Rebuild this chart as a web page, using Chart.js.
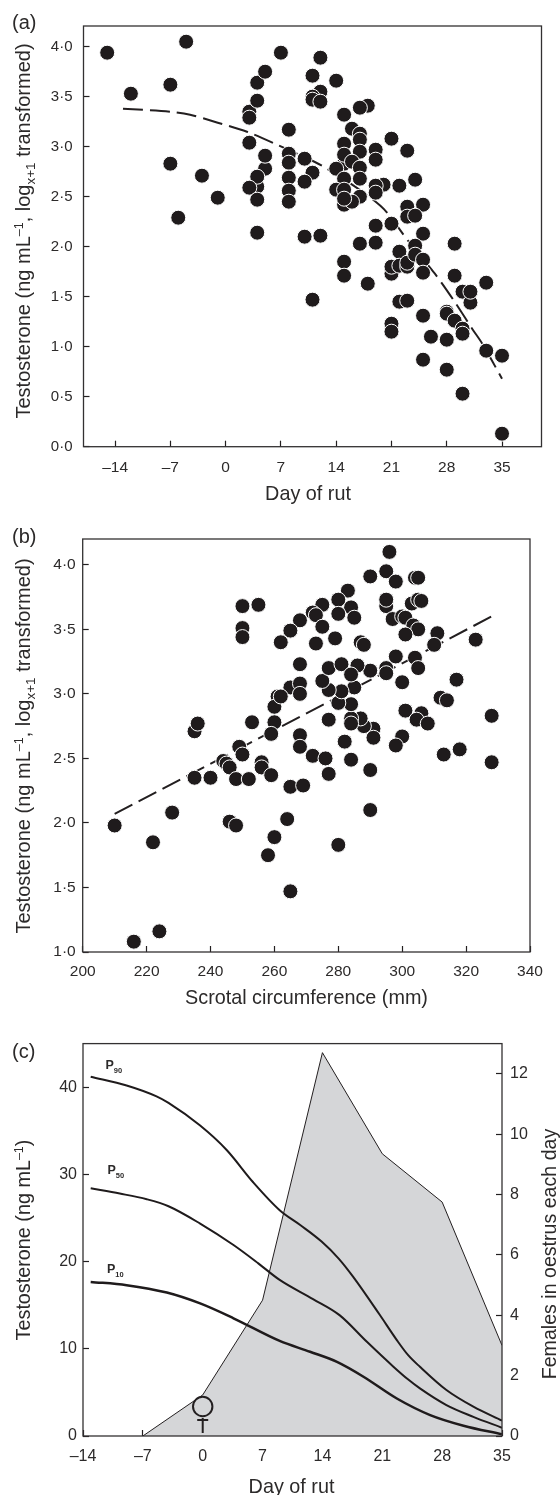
<!DOCTYPE html>
<html>
<head>
<meta charset="utf-8">
<title>Testosterone and day of rut</title>
<script src="https://cdn.jsdelivr.net/npm/chart.js@4"></script>
<style>
  html, body { margin: 0; padding: 0; background: #fff; }
  #page { position: relative; width: 560px; height: 1495px; overflow: hidden; }
  canvas { position: absolute; left: 0; }
</style>
</head>
<body>
<div id="page">
  <canvas id="panelA" width="560" height="510" style="top:0"></canvas>
  <canvas id="panelB" width="560" height="510" style="top:510px"></canvas>
  <canvas id="panelC" width="560" height="475" style="top:1020px"></canvas>
</div>
<script>
// (a) testosterone against day of rut
const aDays = [-15, -12, -5, -7, -7, -3, -1, -6, 4, 3, 3, 3, 4, 4, 5, 5, 5, 4, 4, 3, 4,
  7, 12, 11, 14, 12, 11, 11, 12, 18, 17, 15, 8, 16, 17, 17, 21, 23, 15, 17, 19, 19, 8, 8, 10, 15, 15, 16, 14, 17, 11, 10, 8, 8, 8,
  15, 17, 24, 20, 22, 19, 19, 14, 15, 17, 15, 16, 15, 23, 25, 23, 24, 25, 29, 19, 21, 10, 12, 17, 19, 24, 22,
  15, 15, 18, 21, 21, 22, 23, 23, 24, 25, 25, 29, 33, 30, 31, 31, 11, 22, 23, 25, 21, 21, 28, 28, 29, 30, 30, 26, 28, 33, 35, 25, 28, 30, 35];
const aValues = [3.94, 3.53, 4.05, 3.62, 2.83, 2.71, 2.49, 2.29, 2.14, 3.04, 3.35, 3.29, 3.46, 3.64, 3.75, 2.78, 2.91, 2.6, 2.7, 2.59, 2.47,
  3.94, 3.89, 3.71, 3.66, 3.55, 3.5, 3.47, 3.45, 3.41, 3.39, 3.32, 3.17, 3.18, 3.13, 3.07, 3.08, 2.96, 3.03, 2.95, 2.97, 2.87, 2.93, 2.84, 2.88, 2.83, 2.92, 2.85, 2.78, 2.79, 2.74, 2.65, 2.69, 2.56, 2.45,
  2.68, 2.68, 2.67, 2.62, 2.61, 2.61, 2.54, 2.57, 2.57, 2.5, 2.42, 2.45, 2.48, 2.4, 2.42, 2.3, 2.31, 2.13, 2.03, 2.21, 2.23, 2.1, 2.11, 2.03, 2.04, 2.01, 1.95,
  1.85, 1.71, 1.63, 1.73, 1.8, 1.81, 1.8, 1.84, 1.92, 1.87, 1.74, 1.71, 1.64, 1.55, 1.44, 1.55, 1.47, 1.45, 1.46, 1.31, 1.23, 1.15, 1.35, 1.33, 1.26, 1.18, 1.13, 1.1, 1.07, 0.96, 0.91, 0.87, 0.77, 0.53, 0.13];
const aCurveDays = [-13, -7, -4.5, -1, 2.7, 6.5, 12.4, 19.6, 23, 26.5, 29, 31.3, 32.5, 35];
const aCurveValues = [3.38, 3.35, 3.32, 3.24, 3.15, 3.02, 2.8, 2.41, 2.07, 1.73, 1.45, 1.17, 1.03, 0.68];
const aXTicks = [-14, -7, 0, 7, 14, 21, 28, 35];
const aYTicks = [0, 0.5, 1, 1.5, 2, 2.5, 3, 3.5, 4];

// (b) testosterone against scrotal circumference
const bCirc = [250, 255, 250, 250, 262, 261, 260, 260, 259, 253, 235, 236, 249, 250, 244, 245, 246, 256, 256,
  210, 222, 228, 216, 224, 235, 240, 246, 248, 248, 252, 260, 258, 259, 265, 264, 280, 290, 290, 277, 265, 269,
  296, 295, 290, 298, 304, 305, 295, 295, 297, 303, 305, 306, 300, 301, 303.5, 305, 301, 311, 310, 323, 298, 304, 305, 295, 295, 290, 300, 317,
  312, 314, 301, 306, 304.5, 308, 328, 318, 313, 328, 300, 298, 291, 291, 288, 287, 284, 284, 284, 280, 285, 281, 277, 275, 277, 281, 286, 284,
  268, 265, 268, 268, 262, 277, 268, 268, 272, 276, 282, 284, 283, 280, 284, 285, 280, 275, 272, 273, 268, 265, 262, 275, 273, 279, 287, 288];
const bValues = [3.68, 3.69, 3.51, 3.44, 3.4, 2.98, 2.9, 2.78, 2.69, 2.78, 2.71, 2.77, 2.59, 2.53, 2.48, 2.46, 2.43, 2.47, 2.43,
  1.98, 1.85, 2.08, 1.08, 1.16, 2.35, 2.35, 2.01, 1.98, 2.34, 2.34, 1.89, 1.75, 2.37, 1.47, 2.03, 1.83, 2.1, 2.41, 2.38, 2.28, 2.29,
  4.1, 3.95, 3.91, 3.87, 3.9, 3.9, 3.68, 3.73, 3.58, 3.7, 3.73, 3.72, 3.6, 3.59, 3.53, 3.5, 3.46, 3.47, 3.38, 3.42, 3.29, 3.28, 3.2, 3.2, 3.16, 3.18, 3.09, 3.11,
  2.97, 2.95, 2.87, 2.85, 2.8, 2.77, 2.83, 2.57, 2.53, 2.47, 2.67, 2.6, 2.73, 2.66, 2.75, 2.81, 2.81, 2.77, 2.92, 2.93, 3.05, 3.02, 3.03, 3.1, 3.2, 3.23, 3.22, 3.15,
  3.23, 3.05, 3.08, 3.0, 2.98, 2.8, 2.68, 2.59, 2.52, 2.5, 2.63, 2.49, 3.8, 3.73, 3.67, 3.59, 3.62, 3.69, 3.63, 3.61, 3.57, 3.49, 3.4, 3.52, 3.39, 3.43, 3.4, 3.38];
const bLineCirc = [210, 328];
const bLineValues = [2.07, 3.6];
const bXTicks = [200, 220, 240, 260, 280, 300, 320, 340];
const bYTicks = [1, 1.5, 2, 2.5, 3, 3.5, 4];

// (c) percentile curves and females in oestrus
const cOestrusDays = [-7, 0, 7, 14, 21, 28, 35];
const cOestrus = [0, 1.36, 4.5, 12.7, 9.35, 7.75, 3];
const cP90Days = [-13.1, -8.9, -5.4, -4, -0.3, 2.8, 5.9, 9, 11.4, 13.9, 15.9, 17.6, 20.7, 22.7, 24, 25.4, 28.5, 31.65, 35];
const cP90 = [41.2, 40.2, 38.95, 38.2, 35.6, 32.8, 29.1, 25.9, 24.2, 22.3, 20.35, 18.25, 13.9, 11, 9.3, 7.94, 5.27, 3.36, 1.76];
const cP50Days = [-13.1, -9.7, -6.55, -4, -0.3, 3.6, 6.5, 9, 12.9, 16, 19.2, 22.3, 24, 25.4, 28.5, 31.65, 35];
const cP50 = [28.4, 27.8, 27.15, 26.35, 24.36, 21.9, 19.8, 17.9, 15.7, 13.86, 10.8, 7.95, 6.5, 5.46, 3.55, 2.2, 0.95];
const cP10Days = [-13.1, -8.9, -4.2, -0.3, 3.6, 9, 12.55, 15.7, 18.8, 22.7, 26.6, 30.5, 35];
const cP10 = [17.67, 17.3, 16.45, 15.2, 13.5, 10.9, 9.66, 8.5, 6.8, 4.3, 2.4, 1.18, 0.2];
const cXTicks = [-14, -7, 0, 7, 14, 21, 28, 35];
const cYTicks = [0, 10, 20, 30, 40];
const cY2Ticks = [0, 2, 4, 6, 8, 10, 12];

const ink = '#231f20';
const textInk = '#2c2a2a';
const family = '"Liberation Sans", Arial, sans-serif';
Chart.defaults.font.family = family;
Chart.defaults.color = textInk;

const zip = (xs, ys) => xs.map((x, i) => ({ x: x, y: ys[i] }));
const dotFormat = v => v.toFixed(1).replace('.', '·');
const dashFormat = v => String(v).replace('-', '–');

function axis(position, min, max, ticks, format, size, padding, fit) {
  return {
    type: 'linear',
    position: position,
    min: min,
    max: max,
    afterBuildTicks: scale => { scale.ticks = ticks.map(v => ({ value: v })); },
    afterFit: scale => {
      if (position === 'bottom') scale.height = fit; else scale.width = fit;
    },
    grid: { drawOnChartArea: false, tickLength: -6, tickColor: ink, tickWidth: 1.2 },
    border: { display: false },
    ticks: { autoSkip: false, maxRotation: 0, padding: padding, color: textInk, font: { size: size }, callback: format }
  };
}

// parts are [text, size, baseline shift, weight]
function drawParts(ctx, parts, x, y, vertical, centred) {
  ctx.save();
  ctx.translate(x, y);
  if (vertical) ctx.rotate(-Math.PI / 2);
  ctx.fillStyle = textInk;
  ctx.textBaseline = 'alphabetic';
  ctx.textAlign = 'left';
  const fontOf = p => (p[3] || 'normal') + ' ' + p[1] + 'px ' + family;
  let total = 0;
  parts.forEach(p => { ctx.font = fontOf(p); total += ctx.measureText(p[0]).width; });
  let at = centred ? -total / 2 : 0;
  parts.forEach(p => {
    ctx.font = fontOf(p);
    ctx.fillText(p[0], at, p[2] || 0);
    at += ctx.measureText(p[0]).width;
  });
  ctx.restore();
}

// box round the plot plus the mixed-size titles the axis title option cannot do
function overlay(texts, extra) {
  return {
    id: 'overlay',
    afterDraw(chart) {
      const ctx = chart.ctx, a = chart.chartArea;
      ctx.save();
      ctx.strokeStyle = '#333132';
      ctx.lineWidth = 1.3;
      ctx.strokeRect(a.left, a.top, a.right - a.left, a.bottom - a.top);
      ctx.restore();
      texts.forEach(t => drawParts(ctx, t.parts, t.x, t.y, t.vertical, t.centred));
      if (extra) extra(chart);
    }
  };
}

const logTitle = [['Testosterone (ng mL', 20], ['–1', 12.5, -7], [', log', 20], ['x+1', 13.5, 5], [' transformed)', 20]];

function scatterChart(id, xs, ys, lineXs, lineYs, tension, scales, top, right, texts) {
  return new Chart(document.getElementById(id), {
    type: 'scatter',
    data: {
      datasets: [{
        data: zip(xs, ys),
        order: 1,
        pointRadius: 7.5,
        pointBorderWidth: 1,
        pointBackgroundColor: '#1f1b1c',
        pointBorderColor: '#ffffff'
      }, {
        type: 'line',
        data: zip(lineXs, lineYs),
        order: 2,
        borderColor: ink,
        borderWidth: 2,
        borderDash: [20, 7],
        tension: tension,
        pointRadius: 0,
        fill: false
      }]
    },
    options: {
      responsive: false,
      animation: false,
      layout: { padding: { left: 0, top: top, right: right, bottom: 0 } },
      plugins: { legend: { display: false }, tooltip: { enabled: false } },
      scales: scales
    },
    plugins: [overlay(texts)]
  });
}

scatterChart('panelA', aDays, aValues, aCurveDays, aCurveValues, 0.3, {
  x: axis('bottom', -18, 40, aXTicks, dashFormat, 15.5, 18, 63.3),
  y: axis('left', 0, 4.207, aYTicks, dotFormat, 15, 17, 83.5)
}, 16.5, 18.5, [
  { parts: [['(a)', 20]], x: 12, y: 29 },
  { parts: logTitle, x: 30, y: 231, vertical: true, centred: true },
  { parts: [['Day of rut', 19.8]], x: 308, y: 500, centred: true }
]);

scatterChart('panelB', bCirc, bValues, bLineCirc, bLineValues, 0, {
  x: axis('bottom', 200, 340, bXTicks, v => String(v), 15.5, 16, 68),
  y: axis('left', 1, 4.2, bYTicks, dotFormat, 15.5, 13, 82.7)
}, 29, 30, [
  { parts: [['(b)', 20]], x: 12, y: 33 },
  { parts: logTitle, x: 30, y: 236, vertical: true, centred: true },
  { parts: [['Scrotal circumference (mm)', 19.8]], x: 306.5, y: 494, centred: true }
]);

// female sign sits on day 0 in (c), anchored through the x scale
function femaleSign(chart) {
  const ctx = chart.ctx;
  const x = chart.scales.x.getPixelForValue(0);
  const y = chart.chartArea.bottom;
  ctx.save();
  ctx.strokeStyle = ink;
  ctx.lineWidth = 2;
  ctx.beginPath();
  ctx.arc(x, y - 29.5, 9.7, 0, Math.PI * 2);
  ctx.moveTo(x, y - 18);
  ctx.lineTo(x, y - 3);
  ctx.moveTo(x - 5.5, y - 16);
  ctx.lineTo(x + 5.5, y - 16);
  ctx.stroke();
  ctx.restore();
}

function curve(xs, ys, width) {
  return {
    data: zip(xs, ys),
    yAxisID: 'y',
    order: 1,
    borderColor: '#1f1b1c',
    borderWidth: width,
    cubicInterpolationMode: 'monotone',
    pointRadius: 0,
    fill: false
  };
}

new Chart(document.getElementById('panelC'), {
  type: 'line',
  data: {
    datasets: [
      curve(cP90Days, cP90, 2),
      curve(cP50Days, cP50, 2),
      curve(cP10Days, cP10, 2.5),
      {
        data: zip(cOestrusDays, cOestrus),
        yAxisID: 'y2',
        order: 2,
        borderColor: ink,
        borderWidth: 1,
        backgroundColor: '#d5d6d8',
        tension: 0,
        pointRadius: 0,
        fill: 'origin'
      }
    ]
  },
  options: {
    responsive: false,
    animation: false,
    layout: { padding: { left: 0, top: 22.7, right: 0, bottom: 0 } },
    plugins: { legend: { display: false }, tooltip: { enabled: false } },
    scales: {
      x: axis('bottom', -14, 35, cXTicks, dashFormat, 16, 17, 59),
      y: axis('left', 0, 45, cYTicks, v => String(v), 16, 12, 83),
      y2: axis('right', 0, 13, cY2Ticks, v => String(v), 16, 14, 58)
    }
  },
  plugins: [overlay([
    { parts: [['(c)', 20]], x: 12, y: 38 },
    { parts: [['Testosterone (ng mL', 19.8], ['–1', 12.5, -7], [')', 19.8]], x: 30, y: 220, vertical: true, centred: true },
    { parts: [['Females in oestrus each day', 19.6]], x: 556, y: 234, vertical: true, centred: true },
    { parts: [['Day of rut', 19.8]], x: 291.5, y: 473, centred: true },
    { parts: [['P', 12.5, 0, 'bold'], ['90', 7.5, 4, 'bold']], x: 105.5, y: 49 },
    { parts: [['P', 12.5, 0, 'bold'], ['50', 7.5, 4, 'bold']], x: 107.5, y: 154 },
    { parts: [['P', 12.5, 0, 'bold'], ['10', 7.5, 4, 'bold']], x: 107, y: 253 }
  ], femaleSign)]
});
</script>
</body>
</html>
